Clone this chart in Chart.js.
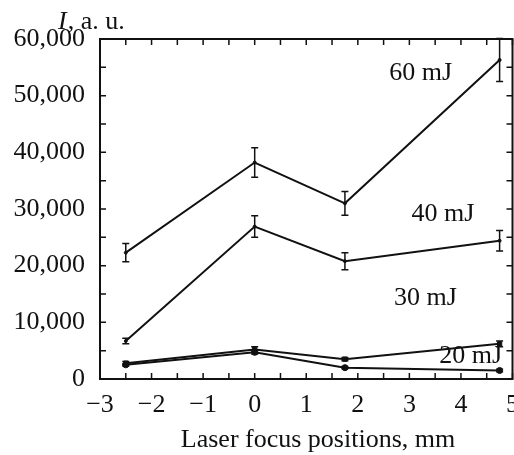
<!DOCTYPE html>
<html>
<head>
<meta charset="utf-8">
<script src="https://cdn.jsdelivr.net/npm/chart.js@4.4.1/dist/chart.umd.min.js"></script>
<style>
  body { margin: 0; width: 514px; height: 455px; overflow: hidden; background: #fff; }
</style>
</head>
<body>
<canvas id="chart" width="530" height="455"></canvas>
<script>
// laser focus position (mm)
const focusPos = [-2.5, 0, 1.75, 4.75];

// intensity, a.u., per pulse energy
const mj60 = [22300, 38200, 31000, 56300];
const err60 = [1600, 2600, 2100, 3800];
const mj40 = [6700, 26900, 20800, 24400];
const err40 = [500, 1900, 1500, 1800];
const mj30 = [2800, 5200, 3500, 6200];
const err30 = [300, 500, 300, 500];
const mj20 = [2500, 4700, 2000, 1500];
const err20 = [200, 300, 200, 200];

const seriesNames = ["60 mJ", "40 mJ", "30 mJ", "20 mJ"];
// where each energy label sits, in data units
const labelPos = [[3.22, 54000], [3.65, 29100], [3.31, 14300], [4.19, 4100]];

const INK = "#111";
const FONT = "Liberation Serif";

const toPoints = (ys) => focusPos.map((x, i) => ({ x, y: ys[i] }));

const framePlugin = {
  id: "frame",
  afterDatasetsDraw(chart) {
    const { ctx, chartArea: a, scales } = chart;
    const xs = scales.x, ys = scales.y;
    ctx.save();
    ctx.strokeStyle = INK;
    ctx.lineWidth = 2;
    ctx.strokeRect(a.left, a.top, a.right - a.left, a.bottom - a.top);

    // inward ticks on all four sides
    ctx.lineWidth = 1.5;
    ctx.beginPath();
    xs.ticks.forEach((t) => {
      const px = xs.getPixelForValue(t.value);
      ctx.moveTo(px, a.bottom); ctx.lineTo(px, a.bottom - 6);
      ctx.moveTo(px, a.top); ctx.lineTo(px, a.top + 6);
    });
    ys.ticks.forEach((t) => {
      const py = ys.getPixelForValue(t.value);
      ctx.moveTo(a.left, py); ctx.lineTo(a.left + 6, py);
      ctx.moveTo(a.right, py); ctx.lineTo(a.right - 6, py);
    });
    ctx.stroke();

    // error bars
    chart.data.datasets.forEach((ds) => {
      ctx.beginPath();
      ds.data.forEach((p, i) => {
        const px = xs.getPixelForValue(p.x);
        const hi = ys.getPixelForValue(p.y + ds.err[i]);
        const lo = ys.getPixelForValue(p.y - ds.err[i]);
        ctx.moveTo(px, hi); ctx.lineTo(px, lo);
        ctx.moveTo(px - 3.5, hi); ctx.lineTo(px + 3.5, hi);
        ctx.moveTo(px - 3.5, lo); ctx.lineTo(px + 3.5, lo);
      });
      ctx.stroke();
    });

    // energy labels
    ctx.fillStyle = INK;
    ctx.font = "26px " + FONT;
    ctx.textAlign = "center";
    ctx.textBaseline = "middle";
    seriesNames.forEach((name, i) => {
      ctx.fillText(name, xs.getPixelForValue(labelPos[i][0]), ys.getPixelForValue(labelPos[i][1]));
    });

    // x axis title
    ctx.textBaseline = "alphabetic";
    ctx.fillText("Laser focus positions, mm", 318, 447);

    // y axis title
    ctx.textAlign = "left";
    ctx.font = "italic 26px " + FONT;
    ctx.fillText("I", 58, 29);
    const w = ctx.measureText("I").width;
    ctx.font = "26px " + FONT;
    ctx.fillText(", a. u.", 58 + w + 1, 29);
    ctx.restore();
  },
};

new Chart(document.getElementById("chart"), {
  type: "scatter",
  data: {
    datasets: [
      { label: seriesNames[0], data: toPoints(mj60), err: err60, pointRadius: 1.5, pointStyle: "circle" },
      { label: seriesNames[1], data: toPoints(mj40), err: err40, pointRadius: 1.5, pointStyle: "circle" },
      { label: seriesNames[2], data: toPoints(mj30), err: err30, pointRadius: 3, pointStyle: "rect" },
      { label: seriesNames[3], data: toPoints(mj20), err: err20, pointRadius: 3, pointStyle: "circle" },
    ].map((d) => ({
      ...d,
      showLine: true,
      borderColor: INK,
      backgroundColor: INK,
      borderWidth: 2,
      pointBorderWidth: 1,
    })),
  },
  options: {
    responsive: false,
    animation: false,
    layout: { padding: { top: 39, right: 15, left: 0, bottom: 0 } },
    plugins: { legend: { display: false }, tooltip: { enabled: false } },
    scales: {
      x: {
        type: "linear",
        min: -3,
        max: 5,
        grid: { display: false, drawTicks: false },
        border: { display: false },
        ticks: {
          stepSize: 0.5,
          autoSkip: false,
          maxRotation: 0,
          padding: 11,
          color: INK,
          font: { family: FONT, size: 26 },
          callback: (v) => (Number.isInteger(v) ? String(v).replace("-", "\u2212") : ""),
        },
        afterFit: (s) => { s.height = 76; },
      },
      y: {
        min: 0,
        max: 60000,
        grid: { display: false, drawTicks: false },
        border: { display: false },
        ticks: {
          stepSize: 5000,
          autoSkip: false,
          padding: 15,
          color: INK,
          font: { family: FONT, size: 26 },
          callback: (v) => (v % 10000 === 0 ? v.toLocaleString("en-US") : ""),
        },
        afterFit: (s) => { s.width = 100; },
      },
    },
  },
  plugins: [framePlugin],
});
</script>
</body>
</html>
